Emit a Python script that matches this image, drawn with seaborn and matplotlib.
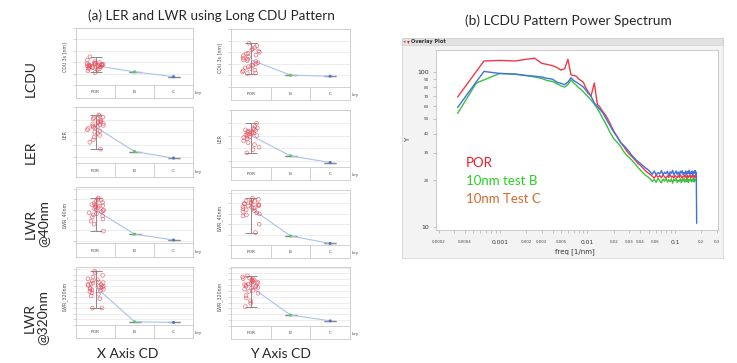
import numpy as np
import pandas as pd
import matplotlib
matplotlib.use("Agg")
import matplotlib.pyplot as plt
import seaborn as sns

# ---------------- data: panel (a) ----------------
categories = ["POR", "B", "C"]
row_labels = ["LCDU", "LER", "LWR\n@40nm", "LWR\n@320nm"]
col_labels = ["X Axis CD", "Y Axis CD"]
metric_labels = ["CDU 3s [nm]", "LER", "LWR_40nm", "LWR_320nm"]

lcdu_x_por = [2.48, 2.2, 2.05, 1.98, 1.92, 1.9, 1.87, 1.85, 1.83, 1.8, 1.78, 1.76, 1.75, 1.73, 1.72,
              1.7, 1.68, 1.66, 1.65, 1.63, 1.6, 1.58, 1.55, 1.52, 1.5, 1.45, 1.4, 1.35, 1.25, 1.1]
lcdu_x_bc = [1.15, 0.73]
lcdu_y_por = [3.77, 3.55, 3.4, 3.3, 3.2, 3.1, 3.0, 2.9, 2.85, 2.75, 2.7, 2.6, 2.5, 2.4, 2.35,
              2.25, 2.2, 2.1, 2.0, 1.9, 1.85, 1.75, 1.65, 1.55, 1.45, 1.4, 1.3, 1.22, 1.16]
lcdu_y_bc = [1.02, 0.93]
ler_x_por = [4.37, 4.3, 4.2, 4.15, 4.05, 3.95, 3.9, 3.85, 3.8, 3.75, 3.7, 3.65, 3.6, 3.55, 3.5,
             3.45, 3.4, 3.35, 3.3, 3.2, 3.1, 3.0, 2.9, 2.75, 2.6, 2.4, 2.2, 1.66]
ler_x_bc = [1.47, 0.95]
ler_y_por = [3.97, 3.7, 3.6, 3.55, 3.5, 3.45, 3.4, 3.35, 3.3, 3.28, 3.25, 3.2, 3.15, 3.1, 3.05,
             3.0, 2.95, 2.9, 2.85, 2.75, 2.6, 2.45, 2.3, 2.1, 1.9, 1.65]
ler_y_bc = [1.42, 0.9]
lwr40_x_por = [5.13, 5.0, 4.95, 4.8, 4.7, 4.6, 4.5, 4.45, 4.4, 4.35, 4.3, 4.25, 4.2, 4.1, 4.0,
               3.95, 3.9, 3.8, 3.7, 3.6, 3.5, 3.4, 3.3, 3.1, 2.9, 2.6, 1.93]
lwr40_x_bc = [1.64, 1.07]
lwr40_y_por = [4.5, 4.4, 4.3, 4.25, 4.2, 4.1, 4.05, 4.0, 3.95, 3.9, 3.85, 3.8, 3.75, 3.7, 3.65,
               3.6, 3.55, 3.5, 3.4, 3.3, 3.2, 3.1, 3.0, 2.9, 2.8, 2.0, 1.2]
lwr40_y_bc = [0.87, 0.15]
lwr320_x_por = [9.65, 9.35, 8.9, 8.6, 8.3, 8.1, 7.9, 7.7, 7.6, 7.5, 7.4, 7.3, 7.2, 7.1, 7.0,
                6.9, 6.8, 6.7, 6.6, 6.5, 6.4, 6.3, 6.2, 6.0, 5.8, 5.5, 5.2, 4.7, 3.05, 3.03]
lwr320_x_bc = [0.58, 0.46]
lwr320_y_por = [8.6, 8.4, 8.2, 8.1, 8.0, 7.9, 7.8, 7.7, 7.6, 7.5, 7.4, 7.3, 7.2, 7.1, 7.0,
                6.9, 6.8, 6.7, 6.6, 6.5, 6.3, 6.1, 5.9, 5.6, 5.2, 4.8, 4.3, 3.9, 3.33]
lwr320_y_bc = [1.88, 0.88]

# ---------------- data: panel (b) ----------------
freq = [0.00033, 0.00054, 0.00066, 0.001, 0.0015, 0.002, 0.0025, 0.003, 0.0035, 0.004, 0.0045,
        0.005, 0.0055, 0.006, 0.0065, 0.007, 0.0075, 0.008, 0.0085, 0.009, 0.0095,
        0.010, 0.011, 0.012, 0.013, 0.014, 0.015, 0.016, 0.017, 0.018, 0.019, 0.020,
        0.022, 0.024, 0.026, 0.028, 0.030, 0.032, 0.034, 0.036, 0.038, 0.040, 0.043, 0.046, 0.049,
        0.052, 0.055, 0.058, 0.061, 0.064, 0.067, 0.070, 0.073, 0.076, 0.079, 0.082, 0.085,
        0.088, 0.091, 0.094, 0.097, 0.100, 0.103, 0.106, 0.109, 0.112, 0.115, 0.118, 0.121,
        0.124, 0.127, 0.130, 0.133, 0.136, 0.139, 0.142, 0.145, 0.148, 0.151, 0.154, 0.157,
        0.160, 0.163, 0.166, 0.169, 0.172, 0.175, 0.177]
por_psd = [69, 101, 118, 119, 118, 121, 123, 114, 112, 110, 107, 103, 105, 121, 96, 95, 94, 90, 88, 86, 80,
           76, 70, 85, 62, 59, 55.5, 53, 50, 47, 44, 41.5, 38, 35, 33, 31, 29.5, 28.5, 27.5, 26.5,
           25.5, 25, 24, 23, 22.3,
           21.8, 21.2, 20.6, 21.5, 20.9, 21.4, 20.7, 21.6, 21.0, 20.5, 21.3, 20.8, 21.7, 20.9, 21.2,
           20.6, 21.5, 21.0, 20.7, 21.4, 20.8, 21.6, 21.1, 20.6, 21.3, 20.9, 21.7, 21.0, 20.5, 21.4,
           20.8, 21.2, 21.6, 20.7, 21.3, 20.9, 21.5, 21.0, 20.6, 21.4, 20.9, 21.2, 21.0]
testb_psd = [54, 85, 89, 98, 97, 95, 93, 91, 88, 87, 84, 81.5, 80, 83, 89, 85, 82, 79, 77, 74.5, 72,
             70, 66, 62, 58, 54, 50, 47, 44, 41, 39, 37, 35, 33, 30.5, 29, 28, 27, 26, 25, 24,
             23.3, 22.3, 21.5, 21,
             20.4, 19.6, 20.2, 19.3, 20.5, 19.8, 19.2, 20.3, 19.7, 20.6, 19.4, 20.1, 19.5, 20.4, 19.1,
             20.2, 19.8, 20.5, 19.3, 20.0, 19.6, 20.4, 19.2, 20.3, 19.7, 20.5, 19.4, 20.1, 19.6, 20.6,
             19.3, 20.2, 19.8, 20.4, 19.5, 20.3, 19.7, 20.5, 19.4, 20.2, 19.9, 20.3, 20.0]
testc_psd = [59, 86.6, 101, 98, 97, 95, 94, 93, 91, 90, 86, 84.5, 83, 86, 92, 88, 86, 84, 82, 80, 77,
             74, 70, 63, 60, 57, 54.5, 51, 48, 45.5, 43, 41, 38, 35, 33.5, 32, 30.5, 29, 28, 27,
             26.3, 25.7, 24.8, 24, 23.4,
             22.6, 21.8, 22.9, 21.5, 22.4, 21.9, 23.0, 21.7, 22.5, 22.0, 22.8, 21.4, 22.6, 22.1, 23.1,
             21.6, 22.3, 22.9, 21.8, 22.5, 21.5, 22.8, 22.2, 23.0, 21.7, 22.4, 22.0, 22.9, 21.6, 22.7,
             22.1, 23.2, 21.8, 22.5, 22.0, 22.9, 21.7, 22.6, 22.2, 23.1, 21.9, 22.5, 10.5]
series_labels = ["POR", "10nm test B", "10nm Test C"]

# ---------------- styling ----------------
sns.set_style("white")
plt.rcParams["font.family"] = ["Lato", "DejaVu Sans"]

W, H = 737, 363
fig = plt.figure(figsize=(W / 100, H / 100), dpi=100)


def rect(x0, y0, x1, y1):
    return [x0 / W, 1 - y1 / H, (x1 - x0) / W, (y1 - y0) / H]


RED = "#e4505c"
GREEN = "#5cc85c"
BLUE = "#4a78d0"
LINEBLUE = "#a8c2ee"
ERRGRAY = "#8a8a8a"
FRAME = "#c9c9c9"

col_x = [(76, 193), (231, 350)]
row_y = [[(28, 85, 98), (29, 87, 100)],
         [(107, 163, 177), (110, 167, 180)],
         [(187, 243, 257), (190, 245, 258)],
         [(267, 325, 338), (267, 326, 339)]]
ylims = [[(0, 5), (0, 5)],
         [(0.56, 5.0), (0.55, 5.0)],
         [(0.78, 6.2), (0, 5.3)],
         [(0, 10.4), (0, 10.1)]]
panel_data = [[(lcdu_x_por, lcdu_x_bc), (lcdu_y_por, lcdu_y_bc)],
              [(ler_x_por, ler_x_bc), (ler_y_por, ler_y_bc)],
              [(lwr40_x_por, lwr40_x_bc), (lwr40_y_por, lwr40_y_bc)],
              [(lwr320_x_por, lwr320_x_bc), (lwr320_y_por, lwr320_y_bc)]]

np.random.seed(11)  # reproducible jitter of the strip plot only

for r in range(4):
    for c in range(2):
        x0, x1 = col_x[c]
        top, mid, bot = row_y[r][c]
        lo, hi = ylims[r][c]
        por, bc = panel_data[r][c]
        ax = fig.add_axes(rect(x0, top, x1, mid))
        df = pd.DataFrame({"key": [categories[0]] * len(por), "val": por})
        sns.stripplot(data=df, x="key", y="val", order=categories, ax=ax, jitter=0.22,
                      size=2.7, color=RED, edgecolor=RED, linewidth=0.5, zorder=3)
        for coll in ax.collections:
            coll.set_facecolor("none")
            coll.set_edgecolor(RED)
            coll.set_alpha(0.8)
        xs = np.arange(len(categories))
        por_mean = float(np.mean(por))
        means = [por_mean] + list(bc)
        ax.plot(xs, means, color=LINEBLUE, lw=0.8, zorder=2)
        ax.errorbar([xs[0]], [por_mean], yerr=[[por_mean - min(por)], [max(por) - por_mean]],
                    fmt="none", ecolor=ERRGRAY, elinewidth=0.7, capsize=4.5, capthick=0.7, zorder=1)
        ax.errorbar(xs[1:], bc, yerr=0, fmt="none", ecolor=ERRGRAY, elinewidth=0.7,
                    capsize=4.5, capthick=0.9, zorder=1)
        ax.scatter(xs[1:], bc, c=[GREEN, BLUE], s=5, marker="o", zorder=4, linewidths=0)
        ax.set_xlim(-0.5, 2.5)
        ax.set_ylim(lo, hi)
        ax.set_xticks([])
        ax.set_xlabel("")
        ax.set_yticks(np.arange(np.ceil(lo), np.floor(hi) + 1))
        ax.set_yticklabels([])
        ax.tick_params(axis="y", length=2, width=0.4, color="#b5b5b5", direction="out", left=True)
        ax.grid(axis="y", color="#e6e6e6", lw=0.5)
        ax.grid(axis="x", visible=False)
        for s in ax.spines.values():
            s.set_color(FRAME)
            s.set_linewidth(0.6)
        ax.set_ylabel(metric_labels[r], fontsize=3.4, labelpad=0.8, color="#505050",
                      family=["DejaVu Sans"])
        # category strip
        sax = fig.add_axes(rect(x0, mid, x1, bot))
        sax.set_xlim(-0.5, 2.5)
        sax.set_ylim(0, 1)
        sax.set_xticks([])
        sax.set_yticks([])
        for b in xs[:-1] + 0.5:
            sax.axvline(b, color=FRAME, lw=0.6)
        for i, cat in enumerate(categories):
            sax.text(i, 0.45, cat, ha="center", va="center", fontsize=3.2, color="#505050",
                     family=["DejaVu Sans"])
        for s in sax.spines.values():
            s.set_color(FRAME)
            s.set_linewidth(0.6)
        fig.text((x1 + 2) / W, 1 - (mid + 0.65 * (bot - mid)) / H, "key", fontsize=3.0,
                 color="#505050", va="center", family=["DejaVu Sans"])

# row / column labels and title of (a)
row_pos = [(31, 79), (31, 152), (37, 224), (36, 318)]
for lab, (x, y) in zip(row_labels, row_pos):
    fig.text(x / W, 1 - y / H, lab, rotation=90, ha="center", va="center", fontsize=10,
             multialignment="center", linespacing=1.05)
for lab, x in zip(col_labels, [128, 280]):
    fig.text(x / W, 1 - 354 / H, lab, ha="center", va="center", fontsize=10)
fig.text(211 / W, 1 - 16 / H, "(a) LER and LWR using Long CDU Pattern", ha="center",
         va="center", fontsize=9.7)

# ---------------- panel (b) ----------------
fig.text(568 / W, 1 - 21 / H, "(b) LCDU Pattern Power Spectrum", ha="center", va="center",
         fontsize=9.8)

bg = fig.add_axes(rect(402, 38, 723, 258))
bg.set_facecolor("#f3f3f3")
bg.set_xticks([])
bg.set_yticks([])
for s in bg.spines.values():
    s.set_color("#d6d6d6")
    s.set_linewidth(0.6)

hdr = fig.add_axes(rect(402, 38, 723, 44.5))
hdr.set_facecolor("#e1e1e1")
hdr.set_xticks([])
hdr.set_yticks([])
for s in hdr.spines.values():
    s.set_color("#cfcfcf")
    s.set_linewidth(0.5)
hdr.text(0.002, 0.45, "\u25c2", transform=hdr.transAxes, fontsize=3.5, color="#777777",
         va="center", family=["DejaVu Sans"])
hdr.text(0.014, 0.45, "\u25be", transform=hdr.transAxes, fontsize=4, color="#dd2222",
         va="center", family=["DejaVu Sans"])
hdr.text(0.027, 0.45, "Overlay Plot", transform=hdr.transAxes, fontsize=3.6, color="#333333",
         va="center", fontweight="bold", family=["DejaVu Sans"])

ax = fig.add_axes(rect(436, 50, 718, 230))
ax.set_facecolor("white")
n = len(freq)
spec = pd.DataFrame({
    "freq": freq * 3,
    "Y": por_psd + testb_psd + testc_psd,
    "series": [series_labels[0]] * n + [series_labels[1]] * n + [series_labels[2]] * n,
})
sns.lineplot(data=spec, x="freq", y="Y", hue="series", hue_order=series_labels,
             palette=["#ee3a48", "#3cbf3c", "#3f6fe0"], estimator=None, legend=False,
             linewidth=1.0, ax=ax)
ax.set_xscale("log")
ax.set_yscale("log")
ax.set_xlim(0.000187, 0.31)
ax.set_ylim(9.5, 139)
for s in ax.spines.values():
    s.set_color("#c4c4c4")
    s.set_linewidth(0.6)
ax.set_xlabel("")
ax.set_ylabel("")

major_x = [0.001, 0.01, 0.1]
minor_x = [0.0002, 0.0003, 0.0004, 0.0005, 0.0006, 0.0007, 0.0008, 0.0009,
           0.002, 0.003, 0.004, 0.005, 0.006, 0.007, 0.008, 0.009,
           0.02, 0.03, 0.04, 0.05, 0.06, 0.07, 0.08, 0.09, 0.2, 0.3]
minor_x_lab = {0.0002: "0.0002", 0.0004: "0.0004", 0.002: "0.002", 0.003: "0.003",
               0.005: "0.005", 0.02: "0.02", 0.03: "0.03", 0.04: "0.04", 0.06: "0.06",
               0.2: "0.2", 0.3: "0.3"}
ax.set_xticks(major_x)
ax.set_xticklabels(["0.001", "0.01", "0.1"], fontsize=4.3, family=["DejaVu Sans"],
                   color="#333333")
ax.set_xticks(minor_x, minor=True)
ax.set_xticklabels([minor_x_lab.get(v, "") for v in minor_x], minor=True, fontsize=2.8,
                   family=["DejaVu Sans"], color="#444444")
ax.tick_params(axis="x", which="both", direction="out", length=2, width=0.4, color="#9a9a9a",
               pad=5, bottom=True)

major_y = [10, 100]
minor_y = [20, 30, 40, 50, 60, 70, 80, 90]
ax.set_yticks(major_y)
ax.set_yticklabels(["10", "100"], fontsize=4.5, family=["DejaVu Sans"], color="#333333")
ax.set_yticks(minor_y, minor=True)
ax.set_yticklabels([str(v) for v in minor_y], minor=True, fontsize=3.0,
                   family=["DejaVu Sans"], color="#444444")
ax.tick_params(axis="y", which="both", direction="out", length=2, width=0.4, color="#9a9a9a",
               pad=3, left=True)
ax.grid(False)

fig.text(575 / W, 1 - 252 / H, "freq [1/nm]", ha="center", va="center", fontsize=5,
         family=["DejaVu Sans"], color="#333333")
fig.text(408 / W, 1 - 140 / H, "Y", ha="center", va="center", fontsize=5, rotation=90,
         family=["DejaVu Sans"], color="#333333")

legend_colors = ["#f01c24", "#28d020", "#d86a2c"]
for lab, col, y in zip(series_labels, legend_colors, [162.7, 181, 199.3]):
    fig.text(466 / W, 1 - y / H, lab, color=col, fontsize=9.5, va="center", ha="left")

fig.savefig("out.png", dpi=100)
